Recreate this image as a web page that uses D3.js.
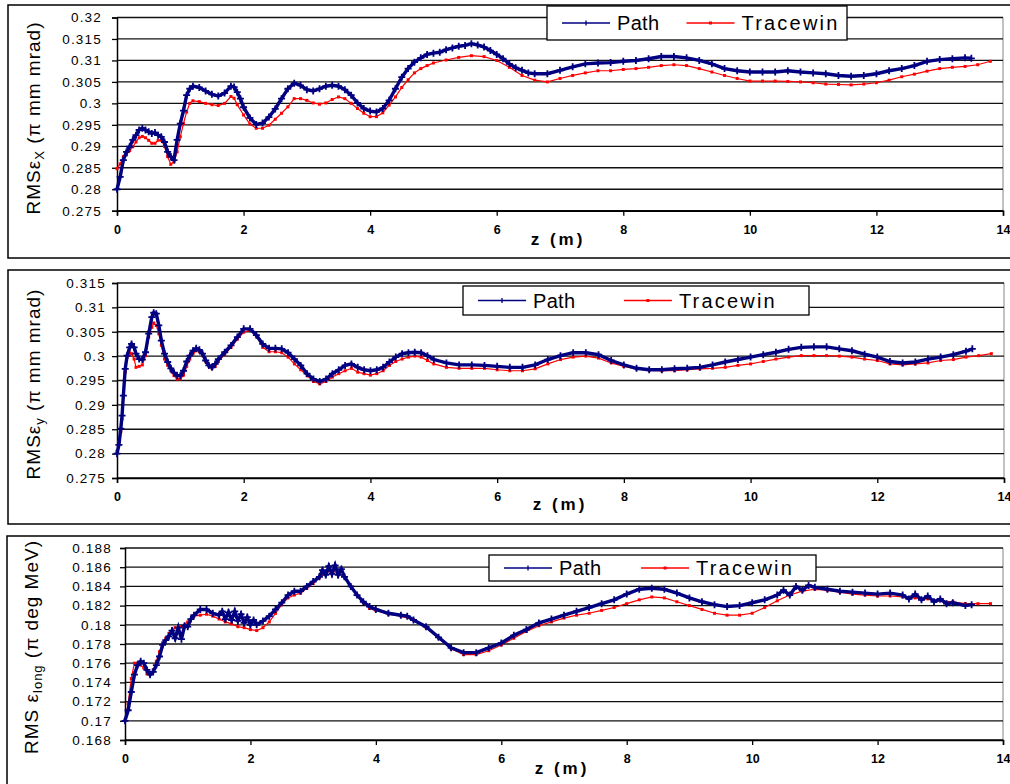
<!DOCTYPE html>
<html><head><meta charset="utf-8">
<script src="https://cdn.jsdelivr.net/npm/d3@7"></script>
<style>
html,body{margin:0;padding:0;background:#fff;}
svg{display:block;font-family:"Liberation Sans",Arial,sans-serif;}
</style></head>
<body><svg id="chart" width="1010" height="784"></svg>
<script>
// ---------- data ----------
const zTicks = [0, 2, 4, 6, 8, 10, 12, 14];
const exTicks = [0.275, 0.28, 0.285, 0.29, 0.295, 0.3, 0.305, 0.31, 0.315, 0.32];
const exTickLabels = ["0.275","0.28","0.285","0.29","0.295","0.3","0.305","0.31","0.315","0.32"];
const eyTicks = [0.275, 0.28, 0.285, 0.29, 0.295, 0.3, 0.305, 0.31, 0.315];
const eyTickLabels = ["0.275","0.28","0.285","0.29","0.295","0.3","0.305","0.31","0.315"];
const elTicks = [0.168, 0.17, 0.172, 0.174, 0.176, 0.178, 0.18, 0.182, 0.184, 0.186, 0.188];
const elTickLabels = ["0.168","0.17","0.172","0.174","0.176","0.178","0.18","0.182","0.184","0.186","0.188"];
const seriesNames = ["Path", "Tracewin"];

const exPath = [[0,0.28],[0.05,0.2829],[0.1,0.2868],[0.15,0.2887],[0.2,0.2899],[0.25,0.2915],[0.3,0.2926],[0.35,0.2938],[0.4,0.2942],[0.45,0.2938],[0.5,0.2934],[0.55,0.293],[0.6,0.2932],[0.65,0.2926],[0.7,0.2922],[0.75,0.291],[0.8,0.2887],[0.85,0.2876],[0.9,0.2868],[0.95,0.2915],[1.0,0.2953],[1.05,0.2983],[1.1,0.3019],[1.15,0.3034],[1.2,0.304],[1.3,0.3037],[1.4,0.3029],[1.5,0.3021],[1.6,0.3017],[1.7,0.3024],[1.8,0.304],[1.85,0.3038],[1.9,0.3026],[1.95,0.3011],[2.0,0.2991],[2.1,0.2966],[2.2,0.2951],[2.3,0.2954],[2.4,0.2968],[2.5,0.2987],[2.6,0.3011],[2.7,0.3034],[2.8,0.3047],[2.9,0.3042],[3.0,0.3032],[3.1,0.3029],[3.2,0.3034],[3.3,0.304],[3.4,0.3042],[3.5,0.304],[3.6,0.3032],[3.7,0.3019],[3.8,0.3001],[3.9,0.2988],[4.0,0.2982],[4.1,0.298],[4.2,0.2988],[4.3,0.3007],[4.4,0.3034],[4.5,0.3061],[4.6,0.3081],[4.7,0.3096],[4.8,0.3106],[4.9,0.3114],[5.0,0.3117],[5.1,0.3119],[5.2,0.3125],[5.3,0.3129],[5.4,0.3133],[5.5,0.3135],[5.6,0.3139],[5.7,0.3136],[5.8,0.3131],[5.9,0.3123],[6.0,0.3114],[6.1,0.3104],[6.2,0.3092],[6.3,0.3083],[6.4,0.3077],[6.5,0.3071],[6.6,0.3069],[6.8,0.3069],[7.0,0.3077],[7.2,0.3085],[7.4,0.3092],[7.6,0.3094],[7.8,0.3095],[8.0,0.3098],[8.2,0.31],[8.4,0.3104],[8.6,0.3109],[8.8,0.3109],[9.0,0.3106],[9.2,0.31],[9.4,0.3092],[9.6,0.3081],[9.8,0.3076],[10.0,0.3073],[10.2,0.3073],[10.4,0.3073],[10.6,0.3076],[10.8,0.3073],[11.0,0.3071],[11.2,0.3069],[11.4,0.3065],[11.6,0.3063],[11.8,0.3065],[12.0,0.3069],[12.2,0.3076],[12.4,0.3081],[12.6,0.3088],[12.8,0.3098],[13.0,0.3102],[13.2,0.3104],[13.4,0.3106],[13.5,0.3105]];
const exTrace = [[0,0.2848],[0.05,0.2859],[0.1,0.2876],[0.15,0.288],[0.2,0.289],[0.25,0.2899],[0.3,0.291],[0.35,0.292],[0.4,0.2923],[0.45,0.292],[0.5,0.2914],[0.55,0.2907],[0.6,0.2907],[0.65,0.2914],[0.7,0.2914],[0.75,0.29],[0.8,0.2876],[0.85,0.2858],[0.9,0.2864],[0.95,0.2887],[1.0,0.2922],[1.05,0.2953],[1.1,0.298],[1.15,0.3],[1.2,0.3006],[1.3,0.3004],[1.4,0.3],[1.5,0.2997],[1.6,0.2995],[1.7,0.3],[1.8,0.3016],[1.85,0.3012],[1.9,0.2997],[2.0,0.2973],[2.1,0.2952],[2.2,0.2942],[2.3,0.2942],[2.4,0.2949],[2.5,0.2963],[2.6,0.2977],[2.7,0.2992],[2.8,0.3011],[2.9,0.3011],[3.0,0.3007],[3.1,0.3001],[3.2,0.2998],[3.3,0.3001],[3.4,0.3009],[3.5,0.3015],[3.6,0.3011],[3.7,0.3],[3.8,0.2988],[3.9,0.2977],[4.0,0.2969],[4.1,0.2969],[4.2,0.2978],[4.3,0.2996],[4.4,0.3015],[4.5,0.3037],[4.6,0.3055],[4.7,0.3071],[4.8,0.3081],[4.9,0.3088],[5.0,0.3094],[5.2,0.3101],[5.4,0.3107],[5.6,0.3111],[5.8,0.3109],[6.0,0.31],[6.2,0.3084],[6.4,0.3065],[6.6,0.3054],[6.8,0.305],[7.0,0.3058],[7.2,0.3065],[7.4,0.3071],[7.6,0.3076],[7.8,0.3076],[8.0,0.3079],[8.2,0.3081],[8.4,0.3084],[8.6,0.3088],[8.8,0.309],[9.0,0.3088],[9.2,0.3081],[9.4,0.3073],[9.6,0.3065],[9.8,0.3058],[10.0,0.3052],[10.2,0.3052],[10.4,0.3052],[10.6,0.3051],[10.8,0.305],[11.0,0.3048],[11.2,0.3045],[11.4,0.3044],[11.6,0.3043],[11.8,0.3045],[12.0,0.3048],[12.2,0.3054],[12.4,0.3062],[12.6,0.3068],[12.8,0.3075],[13.0,0.3081],[13.2,0.3084],[13.4,0.3086],[13.6,0.309],[13.8,0.3098]];

const eyPath = [[0,0.28],[0.03,0.2818],[0.06,0.2851],[0.08,0.2878],[0.1,0.2919],[0.13,0.2974],[0.16,0.3001],[0.2,0.3018],[0.23,0.3025],[0.27,0.3018],[0.3,0.3005],[0.35,0.2994],[0.4,0.2993],[0.45,0.3008],[0.5,0.3046],[0.55,0.308],[0.58,0.3089],[0.62,0.3087],[0.66,0.3063],[0.7,0.3032],[0.75,0.3005],[0.8,0.2988],[0.85,0.2975],[0.9,0.2966],[0.95,0.296],[1.0,0.296],[1.05,0.297],[1.1,0.2989],[1.15,0.3001],[1.2,0.3011],[1.25,0.3016],[1.3,0.3013],[1.35,0.3005],[1.4,0.2991],[1.45,0.2981],[1.5,0.2977],[1.55,0.2984],[1.6,0.2994],[1.7,0.3008],[1.8,0.3022],[1.9,0.3039],[2.0,0.3056],[2.1,0.3056],[2.2,0.3043],[2.3,0.3025],[2.4,0.3016],[2.5,0.3016],[2.6,0.3015],[2.7,0.3007],[2.8,0.2994],[2.9,0.2981],[3.0,0.2964],[3.1,0.2953],[3.2,0.2948],[3.3,0.2953],[3.4,0.2964],[3.5,0.2972],[3.6,0.2981],[3.7,0.2984],[3.8,0.2977],[3.9,0.2972],[4.0,0.297],[4.1,0.2972],[4.2,0.2977],[4.3,0.2988],[4.4,0.2998],[4.5,0.3005],[4.6,0.3007],[4.7,0.3008],[4.8,0.3007],[4.9,0.3001],[5.0,0.2993],[5.2,0.2986],[5.4,0.2982],[5.6,0.2982],[5.8,0.2981],[6.0,0.2979],[6.2,0.2977],[6.4,0.2977],[6.6,0.2982],[6.8,0.2993],[7.0,0.3001],[7.2,0.3007],[7.4,0.3007],[7.6,0.3003],[7.8,0.2991],[8.0,0.2982],[8.2,0.2975],[8.4,0.2972],[8.6,0.2972],[8.8,0.2974],[9.0,0.2975],[9.2,0.2977],[9.4,0.2982],[9.6,0.2988],[9.8,0.2993],[10.0,0.2998],[10.2,0.3003],[10.4,0.3008],[10.6,0.3014],[10.8,0.3018],[11.0,0.3019],[11.2,0.3019],[11.4,0.3015],[11.6,0.3011],[11.8,0.3004],[12.0,0.2998],[12.2,0.2989],[12.4,0.2986],[12.6,0.2988],[12.8,0.2994],[13.0,0.2998],[13.2,0.3003],[13.4,0.301],[13.5,0.3015]];
const eyTrace = [[0,0.2805],[0.03,0.2824],[0.06,0.2845],[0.08,0.2871],[0.1,0.2919],[0.13,0.2967],[0.16,0.2998],[0.2,0.3007],[0.23,0.3005],[0.27,0.2994],[0.3,0.2977],[0.35,0.2979],[0.4,0.2982],[0.45,0.3001],[0.5,0.3039],[0.55,0.3059],[0.58,0.3068],[0.62,0.3063],[0.66,0.3046],[0.7,0.3022],[0.75,0.2994],[0.8,0.2981],[0.85,0.297],[0.9,0.296],[0.95,0.2953],[1.0,0.2953],[1.05,0.2961],[1.1,0.2979],[1.15,0.2994],[1.2,0.3005],[1.25,0.3011],[1.3,0.3009],[1.35,0.3001],[1.4,0.2989],[1.45,0.2979],[1.5,0.2975],[1.55,0.2979],[1.6,0.2989],[1.7,0.3003],[1.8,0.3018],[1.9,0.3035],[2.0,0.3049],[2.1,0.3053],[2.2,0.3041],[2.3,0.3018],[2.4,0.3009],[2.5,0.3009],[2.6,0.3007],[2.7,0.2998],[2.8,0.2984],[2.9,0.2972],[3.0,0.296],[3.1,0.2948],[3.2,0.2943],[3.3,0.2948],[3.4,0.2957],[3.5,0.2964],[3.6,0.297],[3.7,0.2975],[3.8,0.2967],[3.9,0.2964],[4.0,0.2961],[4.1,0.2964],[4.2,0.297],[4.3,0.2981],[4.4,0.2989],[4.5,0.2994],[4.6,0.2998],[4.7,0.3],[4.8,0.2998],[4.9,0.2991],[5.0,0.2984],[5.2,0.2977],[5.4,0.2975],[5.6,0.2975],[5.8,0.2975],[6.0,0.2972],[6.2,0.297],[6.4,0.297],[6.6,0.2974],[6.8,0.2984],[7.0,0.2993],[7.2,0.2998],[7.4,0.3],[7.6,0.2996],[7.8,0.2986],[8.0,0.2979],[8.2,0.2974],[8.4,0.2971],[8.6,0.297],[8.8,0.297],[9.0,0.2972],[9.2,0.2974],[9.4,0.2975],[9.6,0.2977],[9.8,0.2981],[10.0,0.2984],[10.2,0.2989],[10.4,0.2994],[10.6,0.2998],[10.8,0.3001],[11.0,0.3001],[11.2,0.3001],[11.4,0.3],[11.6,0.2998],[11.8,0.2994],[12.0,0.2991],[12.2,0.2984],[12.4,0.2982],[12.6,0.2984],[12.8,0.2986],[13.0,0.2991],[13.2,0.2993],[13.4,0.2998],[13.6,0.3001],[13.8,0.3005]];

const elPath = [[0,0.170],[0.05,0.1711],[0.1,0.173],[0.15,0.1748],[0.2,0.1758],[0.25,0.1762],[0.3,0.176],[0.35,0.1753],[0.4,0.1748],[0.45,0.1751],[0.5,0.1758],[0.55,0.1767],[0.6,0.1779],[0.65,0.1784],[0.7,0.1788],[0.75,0.1794],[0.8,0.1786],[0.85,0.1797],[0.9,0.1785],[0.95,0.1799],[1.0,0.1798],[1.05,0.1806],[1.1,0.181],[1.2,0.1816],[1.3,0.1816],[1.4,0.1812],[1.5,0.181],[1.55,0.1814],[1.6,0.1806],[1.65,0.1813],[1.7,0.1805],[1.75,0.1814],[1.8,0.1804],[1.85,0.1811],[1.9,0.1802],[1.95,0.1808],[2.0,0.18],[2.05,0.1805],[2.1,0.18],[2.2,0.1804],[2.3,0.1809],[2.4,0.1816],[2.5,0.1823],[2.6,0.1831],[2.7,0.1835],[2.8,0.1835],[2.9,0.184],[3.0,0.1845],[3.1,0.185],[3.15,0.1857],[3.2,0.1852],[3.25,0.1861],[3.3,0.1853],[3.35,0.1862],[3.4,0.1852],[3.45,0.1858],[3.5,0.185],[3.6,0.184],[3.7,0.1831],[3.8,0.1824],[3.9,0.1819],[4.0,0.1816],[4.2,0.1812],[4.4,0.181],[4.5,0.1809],[4.6,0.1805],[4.8,0.1798],[5.0,0.1787],[5.2,0.1776],[5.4,0.1771],[5.6,0.1771],[5.8,0.1776],[6.0,0.1781],[6.2,0.1789],[6.4,0.1795],[6.6,0.1802],[6.8,0.1806],[7.0,0.181],[7.2,0.1814],[7.4,0.1818],[7.6,0.1822],[7.8,0.1826],[8.0,0.1832],[8.2,0.1837],[8.4,0.1838],[8.6,0.1837],[8.8,0.1833],[9.0,0.1828],[9.2,0.1824],[9.4,0.1821],[9.6,0.1819],[9.8,0.182],[10.0,0.1823],[10.2,0.1826],[10.4,0.1831],[10.5,0.1836],[10.6,0.1831],[10.7,0.184],[10.8,0.1836],[10.9,0.1841],[11.0,0.1839],[11.2,0.1837],[11.4,0.1835],[11.6,0.1834],[11.8,0.1833],[12.0,0.1832],[12.2,0.1833],[12.4,0.1831],[12.5,0.1827],[12.6,0.1832],[12.7,0.1826],[12.8,0.183],[12.9,0.1824],[13.0,0.1827],[13.1,0.1822],[13.2,0.1823],[13.4,0.182],[13.5,0.1821]];
const elTrace = [[0,0.1701],[0.05,0.1718],[0.1,0.1744],[0.15,0.176],[0.2,0.176],[0.25,0.1758],[0.3,0.1755],[0.35,0.1749],[0.4,0.1748],[0.45,0.1753],[0.5,0.1762],[0.55,0.1772],[0.6,0.1781],[0.65,0.1786],[0.7,0.1791],[0.8,0.1797],[0.9,0.1798],[1.0,0.1803],[1.1,0.1809],[1.2,0.181],[1.3,0.1811],[1.4,0.1809],[1.5,0.1806],[1.6,0.1803],[1.7,0.1801],[1.8,0.1798],[1.9,0.1797],[2.0,0.1795],[2.1,0.1794],[2.2,0.1797],[2.3,0.1803],[2.4,0.1812],[2.5,0.1821],[2.6,0.1828],[2.7,0.1831],[2.8,0.1833],[2.9,0.1838],[3.0,0.1843],[3.1,0.1849],[3.2,0.1854],[3.3,0.1856],[3.4,0.1854],[3.5,0.1849],[3.6,0.184],[3.7,0.1831],[3.8,0.1823],[3.9,0.1817],[4.0,0.1815],[4.2,0.1811],[4.4,0.1809],[4.6,0.1805],[4.8,0.1797],[5.0,0.1786],[5.2,0.1775],[5.4,0.1769],[5.6,0.1769],[5.8,0.1773],[6.0,0.1779],[6.2,0.1786],[6.4,0.1793],[6.6,0.1799],[6.8,0.1803],[7.0,0.1807],[7.2,0.181],[7.4,0.1812],[7.6,0.1815],[7.8,0.1818],[8.0,0.1822],[8.2,0.1826],[8.4,0.1829],[8.6,0.1828],[8.8,0.1824],[9.0,0.182],[9.2,0.1816],[9.4,0.1812],[9.6,0.181],[9.8,0.181],[10.0,0.1812],[10.2,0.1818],[10.4,0.1825],[10.6,0.1831],[10.8,0.1835],[11.0,0.1837],[11.2,0.1836],[11.4,0.1834],[11.6,0.1832],[11.8,0.1831],[12.0,0.183],[12.2,0.183],[12.4,0.1829],[12.6,0.1828],[12.8,0.1827],[13.0,0.1825],[13.2,0.1824],[13.4,0.1822],[13.6,0.1822],[13.8,0.1822]];

// ---------- layout ----------
const NAVY = "#000080", RED = "#ff0000";
const FONT = '"Liberation Sans", Arial, sans-serif';
const panels = [
  { frame:[8,5,1010,253], x0:117, x1:1003, yTop:17.5, yBot:210.7, domain:[0.275,0.32],
    ticks:exTicks, labels:exTickLabels, path:exPath, trace:exTrace, tickPad:10,
    legend:[547,6,300,34], title:{x:40,y:118,sub:"X",pre:"RMSε",post:" (π mm mrad)"}, zt:{x:558,y:245} },
  { frame:[8,270,1010,254], x0:117, x1:1004, yTop:283, yBot:478, domain:[0.275,0.315],
    ticks:eyTicks, labels:eyTickLabels, path:eyPath, trace:eyTrace, tickPad:6,
    legend:[463,286,346,29], title:{x:40,y:384,sub:"y",pre:"RMSε",post:" (π mm mrad)"}, zt:{x:560,y:510} },
  { frame:[7,536,1010,260], x0:125, x1:1003, yTop:548, yBot:740, domain:[0.168,0.188],
    ticks:elTicks, labels:elTickLabels, path:elPath, trace:elTrace, tickPad:8,
    legend:[489,555,327,26], title:{x:38,y:647,sub:"long",pre:"RMS ε",post:" (π deg MeV)"}, zt:{x:562,y:774} }
];

const svg = d3.select("#chart");
svg.append("rect").attr("width",1010).attr("height",784).attr("fill","#fff");

panels.forEach(p => {
  const g = svg.append("g");
  g.append("rect").attr("x",p.frame[0]).attr("y",p.frame[1]).attr("width",p.frame[2]).attr("height",p.frame[3])
    .attr("fill","#fff").attr("stroke","#000").attr("stroke-width",1.5);

  const x = d3.scaleLinear().domain([0,14]).range([p.x0,p.x1]);
  const y = d3.scaleLinear().domain(p.domain).range([p.yBot,p.yTop]);

  g.append("line").attr("x1",p.x1).attr("x2",p.x1).attr("y1",p.yTop).attr("y2",p.yBot)
    .attr("stroke","#999").attr("stroke-width",1.2);
  g.selectAll(".grid").data(p.ticks).enter().append("line")
    .attr("x1",p.x0).attr("x2",p.x1).attr("y1",d=>y(d)).attr("y2",d=>y(d))
    .attr("stroke","#111").attr("stroke-width",1.3);

  const ya = g.append("g").attr("transform",`translate(${p.x0},0)`)
    .call(d3.axisLeft(y).tickValues(p.ticks).tickSize(5).tickPadding(p.tickPad)
      .tickFormat((d,i)=>p.labels[i]));
  ya.selectAll("text").attr("font-family",FONT).attr("font-size",13.5).attr("letter-spacing",1.2).attr("fill","#000");
  const xa = g.append("g").attr("transform",`translate(0,${p.yBot})`)
    .call(d3.axisBottom(x).tickValues(zTicks).tickSize(5).tickPadding(9).tickFormat(d3.format("d")));
  xa.selectAll("text").attr("font-family",FONT).attr("font-size",12.5).attr("font-weight","bold").attr("fill","#000");
  [ya,xa].forEach(a=>{ a.select(".domain").attr("stroke","#000").attr("stroke-width",1.5);
    a.selectAll(".tick line").attr("stroke","#000").attr("stroke-width",1.3); });

  const line = d3.line().x(d=>x(d[0])).y(d=>y(d[1]));
  g.append("path").datum(p.trace).attr("d",line).attr("fill","none").attr("stroke",RED).attr("stroke-width",1.2);
  g.selectAll(".tm").data(p.trace).enter().append("rect")
    .attr("x",d=>x(d[0])-1.5).attr("y",d=>y(d[1])-1.5).attr("width",3).attr("height",3).attr("fill",RED);
  g.append("path").datum(p.path).attr("d",line).attr("fill","none").attr("stroke",NAVY).attr("stroke-width",3.4);
  g.selectAll(".pm").data(p.path).enter().append("path")
    .attr("d",d=>{const cx=x(d[0]),cy=y(d[1]);return `M${cx-3.5},${cy}H${cx+3.5}M${cx},${cy-3.5}V${cy+3.5}`;})
    .attr("stroke",NAVY).attr("stroke-width",1.8).attr("fill","none");

  const [lx,ly,lw,lh] = p.legend;
  const lg = g.append("g");
  lg.append("rect").attr("x",lx).attr("y",ly).attr("width",lw).attr("height",lh)
    .attr("fill","#fff").attr("stroke","#000").attr("stroke-width",1.3);
  const cy = ly + lh/2;
  const items = [
    {name:seriesNames[0], color:NAVY, x:lx+15},
    {name:seriesNames[1], color:RED, x:lx+lw*0.465}
  ];
  items.forEach((it,i)=>{
    lg.append("line").attr("x1",it.x).attr("x2",it.x+48).attr("y1",cy).attr("y2",cy)
      .attr("stroke",it.color).attr("stroke-width",1.3);
    if(i===0){
      lg.append("path").attr("d",`M${it.x+24},${cy-2.5}V${cy+2.5}`).attr("stroke",it.color).attr("stroke-width",1.3);
    } else {
      lg.append("rect").attr("x",it.x+22.5).attr("y",cy-1.5).attr("width",3).attr("height",3).attr("fill",it.color);
    }
    lg.append("text").attr("x",it.x+55).attr("y",cy+7).attr("font-family",FONT).attr("font-size",20)
      .attr("letter-spacing", i===1 ? 2.2 : 0.3).attr("fill","#000").text(it.name);
  });

  g.append("text").attr("x",p.zt.x).attr("y",p.zt.y).attr("text-anchor","middle")
    .attr("font-family",FONT).attr("font-size",17).attr("font-weight","bold").attr("letter-spacing",3)
    .attr("fill","#000").text("z (m)");
  const t = g.append("text").attr("transform",`translate(${p.title.x},${p.title.y}) rotate(-90)`)
    .attr("text-anchor","middle").attr("font-family",FONT).attr("font-size",19).attr("letter-spacing",1)
    .attr("fill","#000");
  t.append("tspan").text(p.title.pre);
  t.append("tspan").attr("font-size",13).attr("dy",4).text(p.title.sub);
  t.append("tspan").attr("dy",-4).text(p.title.post);
});
</script>
</body></html>
